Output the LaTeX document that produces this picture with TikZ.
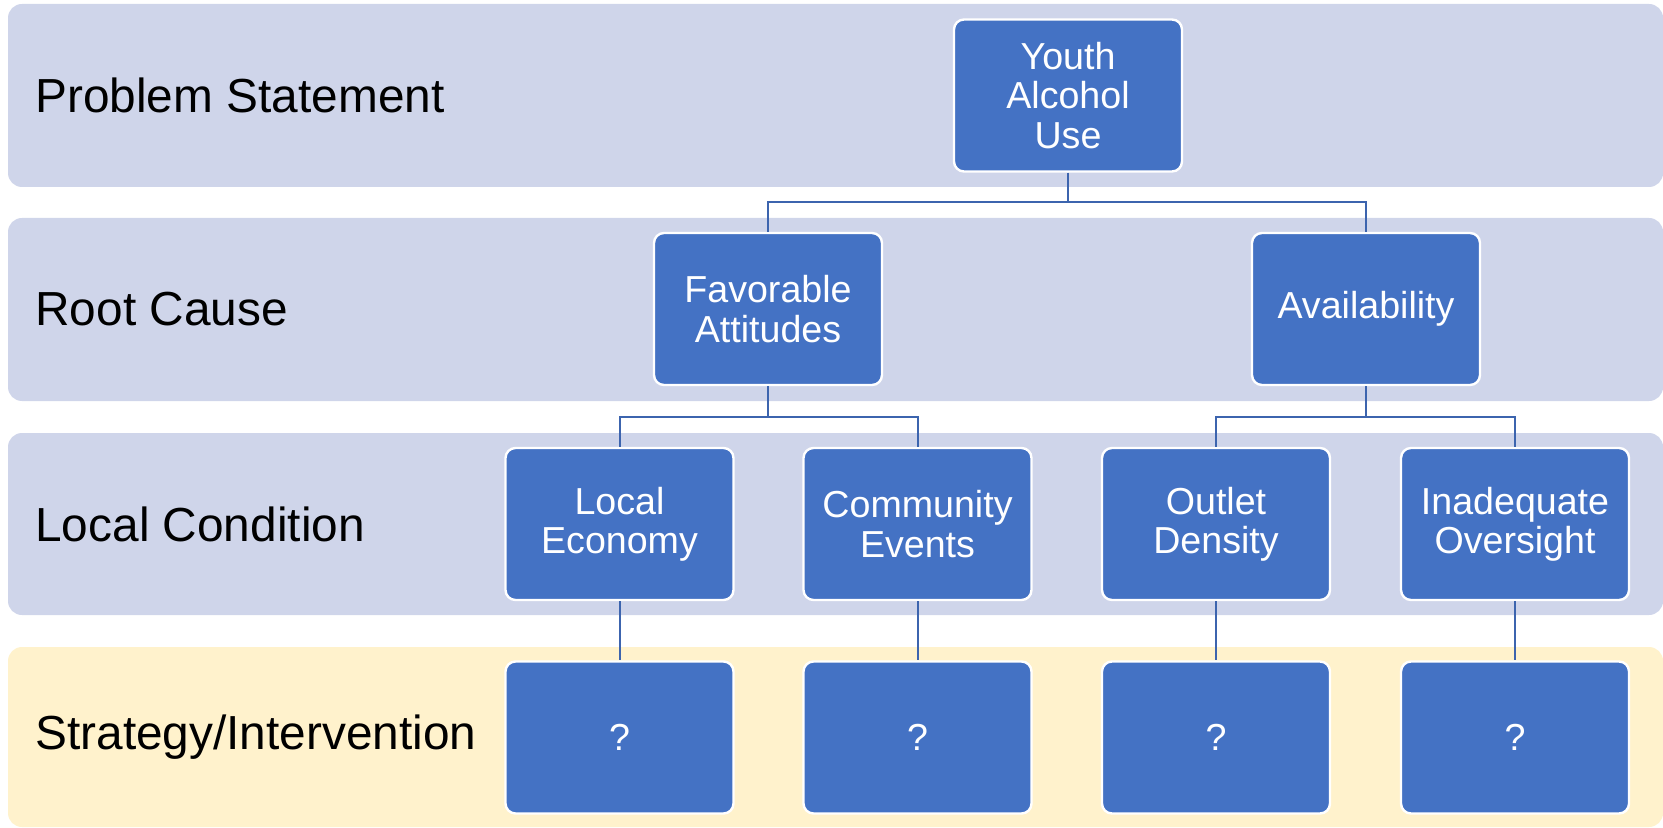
\documentclass[tikz,border=0pt]{standalone}
\usepackage{fontspec}
\setmainfont{Liberation Sans}
\usetikzlibrary{calc}
\definecolor{bandblue}{HTML}{CFD5EA}
\definecolor{bandyellow}{HTML}{FFF2CC}
\definecolor{boxblue}{HTML}{4472C4}
\definecolor{lineblue}{HTML}{3C64AE}
\tikzset{
  band/.style={rounded corners=7pt},
  bandlabel/.style={anchor=west, inner sep=0pt, font=\fontsize{23.9}{28}\selectfont},
  nodebox/.style={draw=white, line width=1.2pt, fill=boxblue, rounded corners=5pt,
    minimum width=114pt, minimum height=76pt, text=white, align=center,
    font=\fontsize{18.8}{19.6}\selectfont, inner sep=2pt},
  conn/.style={draw=lineblue, line width=1pt},
}
\begin{document}
\begin{tikzpicture}[x=0.5pt, y=-0.5pt]
\useasboundingbox (0,0) rectangle (1663,828);
% bands
\fill[band, bandblue] (8,4) rectangle (1663,187);
\fill[band, bandblue] (8,218) rectangle (1663,401);
\fill[band, bandblue] (8,433) rectangle (1663,615);
\fill[band, bandyellow] (8,647) rectangle (1663,827);
% band labels
\node[bandlabel] (l1) at (35,95.5) {Problem Statement};
\node[bandlabel] (l2) at (35,309.5) {Root Cause};
\node[bandlabel] (l3) at (35,524) {Local Condition};
\node[bandlabel] (l4) at (35,737) {Strategy/Intervention};
% boxes
\node[nodebox] (youth) at (1068,95.5) {Youth\\Alcohol\\Use};
\node[nodebox] (fav) at (768,309) {Favorable\\Attitudes};
\node[nodebox] (avail) at (1366,309) {Availability};
\node[nodebox] (local) at (619.5,524) {Local\\Economy};
\node[nodebox] (comm) at (917.5,524) {Community\\Events};
\node[nodebox] (outlet) at (1216,524) {Outlet\\Density};
\node[nodebox] (inad) at (1515,524) {Inadequate\\Oversight};
\node[nodebox] (q1) at (619.5,737.5) {?};
\node[nodebox] (q2) at (917.5,737.5) {?};
\node[nodebox] (q3) at (1216,737.5) {?};
\node[nodebox] (q4) at (1515,737.5) {?};
% connectors
\path (youth.south) -- (fav.north) coordinate[pos=.5] (m1);
\draw[conn] (youth.south) -- (youth.south |- m1);
\draw[conn] (fav.north) |- (avail.north |- m1) -- (avail.north);
\path (fav.south) -- (local.north) coordinate[pos=.5] (m2);
\draw[conn] (fav.south) -- (fav.south |- m2);
\draw[conn] (local.north) |- (comm.north |- m2) -- (comm.north);
\path (avail.south) -- (outlet.north) coordinate[pos=.5] (m3);
\draw[conn] (avail.south) -- (avail.south |- m3);
\draw[conn] (outlet.north) |- (inad.north |- m3) -- (inad.north);
\draw[conn] (local.south) -- (q1.north);
\draw[conn] (comm.south) -- (q2.north);
\draw[conn] (outlet.south) -- (q3.north);
\draw[conn] (inad.south) -- (q4.north);
\end{tikzpicture}
\end{document}
